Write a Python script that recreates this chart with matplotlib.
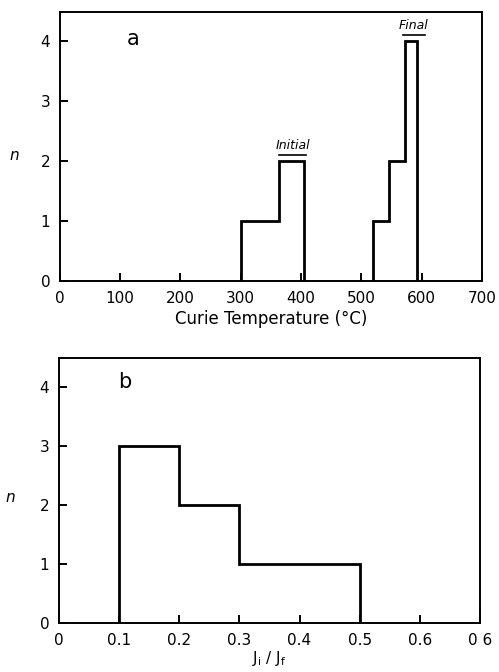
import matplotlib
matplotlib.use("Agg")
import matplotlib.pyplot as plt

# Panel a: Curie temperature distributions (histogram bin edges and counts)
initial_edges = [300, 364, 404]
initial_counts = [1, 2]
final_edges = [519, 545, 572, 592]
final_counts = [1, 2, 4]
temp_ticks = [0, 100, 200, 300, 400, 500, 600, 700]
temp_ticklabels = ["0", "100", "200", "300", "400", "500", "600", "700"]

# Panel b: ratio of initial to final intensity
ratio_edges = [0.1, 0.2, 0.3, 0.5]
ratio_counts = [3, 2, 1]
ratio_ticks = [0, 0.1, 0.2, 0.3, 0.4, 0.5, 0.6, 0.7]
ratio_ticklabels = ["0", "0.1", "0.2", "0.3", "0.4", "0.5", "0.6", "0 6"]

n_ticks = [0, 1, 2, 3, 4]

plt.rcParams["font.family"] = ["DejaVu Sans"]

fig = plt.figure(figsize=(4.99, 6.72), dpi=100)
ax_a = fig.add_axes([0.120, 0.582, 0.846, 0.400])
ax_b = fig.add_axes([0.118, 0.073, 0.844, 0.394])

def style(ax):
    for s in ax.spines.values():
        s.set_linewidth(1.4)
    ax.tick_params(direction="in", length=6, width=1.4, pad=7,
                   labelsize=11)
    ax.set_yticks(n_ticks)
    ax.set_yticklabels([str(v) for v in n_ticks])
    ax.set_ylim(0, 4.48)
    ax.set_ylabel("n", rotation=0, fontsize=11, style="italic")

# ---- panel a ----
ax_a.stairs(initial_counts, initial_edges, baseline=0, color="black", lw=2)
ax_a.stairs(final_counts, final_edges, baseline=0, color="black", lw=2)
ax_a.set_xlim(temp_ticks[0], temp_ticks[-1])
ax_a.set_xticks(temp_ticks)
ax_a.set_xticklabels(temp_ticklabels)
style(ax_a)
ax_a.yaxis.set_label_coords(-0.107, 0.44)
ax_a.set_xlabel("Curie Temperature (°C)", fontsize=12, labelpad=3)
ax_a.text(121, 4.03, "a", fontsize=15, ha="center", va="center")

def underlined(ax, x, y, s, half_width):
    ax.text(x, y, s, fontsize=9, style="italic", ha="center", va="bottom")
    ax.plot([x - half_width, x + half_width], [y - 0.04, y - 0.04],
            color="black", lw=1.2)

underlined(ax_a, 386, 2.14, "Initial", 22)
underlined(ax_a, 587, 4.14, "Final", 18)

# ---- panel b ----
ax_b.stairs(ratio_counts, ratio_edges, baseline=0, color="black", lw=2)
ax_b.set_xlim(ratio_ticks[0], ratio_ticks[-1])
ax_b.set_xticks(ratio_ticks)
ax_b.set_xticklabels(ratio_ticklabels)
style(ax_b)
ax_b.yaxis.set_label_coords(-0.116, 0.445)
ax_b.set_xlabel(r"$\mathregular{J_i\ /\ J_f}$", fontsize=11, labelpad=1)
ax_b.text(0.11, 4.08, "b", fontsize=15, ha="center", va="center")

fig.savefig("out.png", dpi=100)
